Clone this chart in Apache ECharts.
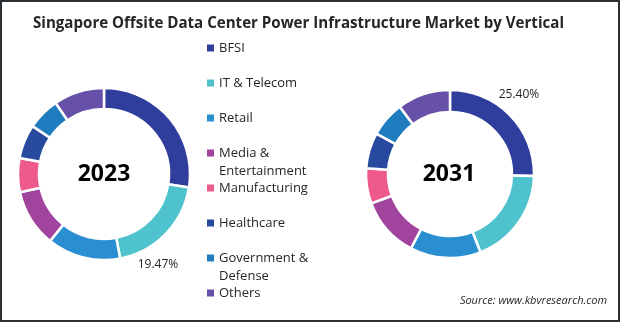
<!DOCTYPE html>
<html>
<head>
<meta charset="utf-8">
<script src="https://cdn.jsdelivr.net/npm/echarts@6/dist/echarts.min.js"></script>
<style>
  html, body { margin: 0; padding: 0; background: #fff; }
  #chart { width: 620px; height: 322px; }
</style>
</head>
<body>
<div id="chart"></div>
<script>
// Verticals (legend order) and their share of the market, in percent
const categories = ['BFSI', 'IT & Telecom', 'Retail', 'Media & Entertainment', 'Manufacturing', 'Healthcare', 'Government & Defense', 'Others'];
const legendLines = [['BFSI'], ['IT & Telecom'], ['Retail'], ['Media &', 'Entertainment'], ['Manufacturing'], ['Healthcare'], ['Government &', 'Defense'], ['Others']];
const share2023 = [27.5, 19.47, 13.8, 10.8, 6.4, 6.4, 6.1, 9.5];
const share2031 = [25.4, 18.7, 13.6, 11.6, 6.8, 6.9, 6.8, 10.2];
const years = ['2023', '2031'];
// Only these slices carry a percentage label
const labelled2023 = 'IT & Telecom';
const labelled2031 = 'BFSI';

const colors = ['#2f3d9c', '#4fc3cd', '#2a8fd0', '#a1449e', '#ee5a8c', '#284a9e', '#1f7cbf', '#6751a8'];
const font = '"Open Sans", "Liberation Sans", sans-serif';

const chart = echarts.init(document.getElementById('chart'), null, { renderer: 'canvas' });

function donut(values, center, radius) {
  return {
    type: 'pie',
    center: center,
    radius: radius,
    startAngle: 90,
    clockwise: true,
    avoidLabelOverlap: false,
    silent: true,
    itemStyle: { borderColor: '#ffffff', borderWidth: 2.5 },
    data: categories.map((name, i) => ({
      name: name,
      value: values[i],
      itemStyle: { color: colors[i] }
    })),
    label: { show: false },
    labelLine: { show: false }
  };
}

// Legend drawn as a column of swatches and text
const legendGraphics = [];
const legendTop = 48;
const legendStep = 35;
legendLines.forEach((lines, i) => {
  const y = legendTop + i * legendStep;
  legendGraphics.push({
    type: 'rect',
    shape: { x: 207, y: y - 3.5, width: 7, height: 7 },
    style: { fill: colors[i] }
  });
  lines.forEach((t, j) => {
    legendGraphics.push({
      type: 'text',
      x: 219,
      y: y + j * 18,
      style: {
        text: t,
        font: '13px ' + font,
        fill: '#262626',
        textVerticalAlign: 'middle'
      }
    });
  });
});

// Percentage labels for the highlighted slices
function pct(values, name) {
  return values[categories.indexOf(name)].toFixed(2) + '%';
}

const option = {
  animation: false,
  backgroundColor: '#ffffff',
  title: {
    text: 'Singapore Offsite Data Center Power Infrastructure Market by Vertical',
    left: 28,
    top: 11,
    textStyle: { fontFamily: font, fontSize: 15.1, fontWeight: 'bold', color: '#262626' }
  },
  series: [
    donut(share2023, [104, 174], [65, 86]),
    donut(share2031, [450, 174], [62, 84])
  ],
  graphic: [
    {
      type: 'rect',
      shape: { x: 1, y: 1, width: 618, height: 320 },
      style: { fill: 'none', stroke: '#2b3035', lineWidth: 2 },
      z: 100
    },
    {
      type: 'text', x: 104, y: 174,
      style: { text: years[0], font: 'bold 23px ' + font, fill: '#000', textAlign: 'center', textVerticalAlign: 'middle' }
    },
    {
      type: 'text', x: 449, y: 174,
      style: { text: years[1], font: 'bold 23px ' + font, fill: '#000', textAlign: 'center', textVerticalAlign: 'middle' }
    },
    {
      type: 'text', x: 158, y: 265,
      style: { text: pct(share2023, labelled2023), font: '12px ' + font, fill: '#262626', textAlign: 'center', textVerticalAlign: 'middle' }
    },
    {
      type: 'text', x: 519, y: 95,
      style: { text: pct(share2031, labelled2031), font: '12px ' + font, fill: '#262626', textAlign: 'center', textVerticalAlign: 'middle' }
    },
    {
      type: 'text', x: 607, y: 301,
      style: { text: 'Source: www.kbvresearch.com', font: 'italic 11px ' + font, fill: '#262626', textAlign: 'right', textVerticalAlign: 'middle' }
    }
  ].concat(legendGraphics)
};

chart.setOption(option);
</script>
</body>
</html>
